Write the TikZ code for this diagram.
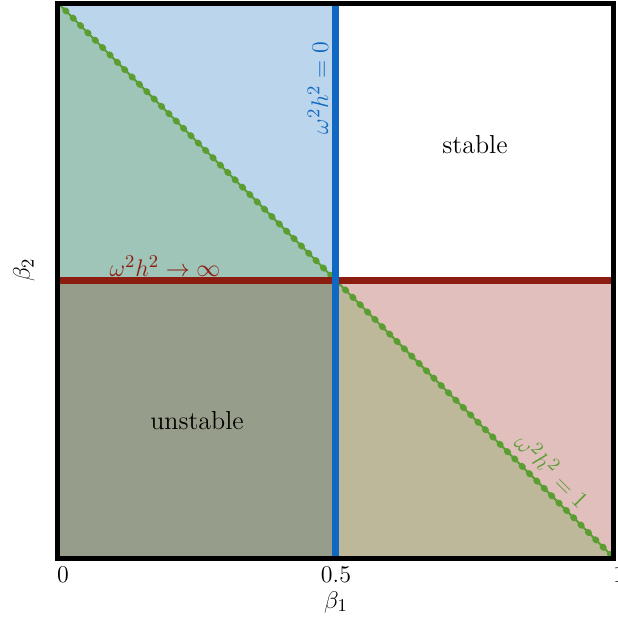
\documentclass[tikz,border=0pt]{standalone}
\usepackage{amsmath}
\definecolor{cblue}{HTML}{BBD5EC}
\definecolor{cbg}{HTML}{9FC4B8}
\definecolor{call}{HTML}{969D8A}
\definecolor{cpink}{HTML}{E0BFBD}
\definecolor{ctan}{HTML}{BDB89A}
\definecolor{lblue}{HTML}{1168C0}
\definecolor{lred}{HTML}{8C1B10}
\definecolor{lgreen}{HTML}{5A9E32}
\tikzset{
  lab/.style={font=\fontsize{13}{15}\selectfont, inner sep=0pt},
  tick/.style={font=\fontsize{12}{14}\selectfont, inner sep=0pt},
}
\begin{document}
\begin{tikzpicture}[x=0.5pt,y=-0.5pt]
\useasboundingbox (0,0) rectangle (618,618);
\clip (0,0) rectangle (618,618);
\coordinate (TL) at (58,3);
\coordinate (TR) at (614,3);
\coordinate (BL) at (58,558);
\coordinate (BR) at (614,558);
\coordinate (MT) at (336,3);
\coordinate (MB) at (336,558);
\coordinate (ML) at (58,280.5);
\coordinate (MR) at (614,280.5);
\coordinate (C) at (336,280.5);
% regions
\fill[cblue] (TL) -- (MT) -- (C) -- cycle;
\fill[cbg] (TL) -- (C) -- (ML) -- cycle;
\fill[call] (ML) -- (C) -- (MB) -- (BL) -- cycle;
\fill[ctan] (C) -- (BR) -- (MB) -- cycle;
\fill[cpink] (C) -- (MR) -- (BR) -- cycle;
% lines
\begin{scope}
\clip (TL) rectangle (BR);
\draw[lgreen, line width=1pt] (TL) -- (BR);
\draw[lgreen, line width=3.1pt, line cap=round, dash pattern=on 0.7pt off 4.5pt] (TL) -- (BR);
\end{scope}
\draw[lred, line width=3.5pt] (ML) -- (MR);
\draw[lblue, line width=3.5pt] (MT) -- (MB);
\draw[black, line width=2.5pt] (TL) rectangle (BR);
% labels
\node[lab, text=lblue, rotate=90] (l0) at (318,88) {$\omega^2h^2=0$};
\node[lab, text=lred] (linf) at (165,266) {$\omega^2h^2\to\infty$};
\node[lab, text=lgreen, rotate=-45] (l1) at (553,470) {$\omega^2h^2=1$};
\node[lab] (st) at (475,145) {stable};
\node[lab] (un) at (197,421) {unstable};
\node[tick] (t0) at (63,575) {0};
\node[tick] (t5) at (336,575) {0.5};
\node[tick] (t1) at (619,575) {1};
\node[lab] (b1) at (336,602) {$\beta_1$};
\node[lab, rotate=90] (b2) at (24,270) {$\beta_2$};
\end{tikzpicture}
\end{document}
